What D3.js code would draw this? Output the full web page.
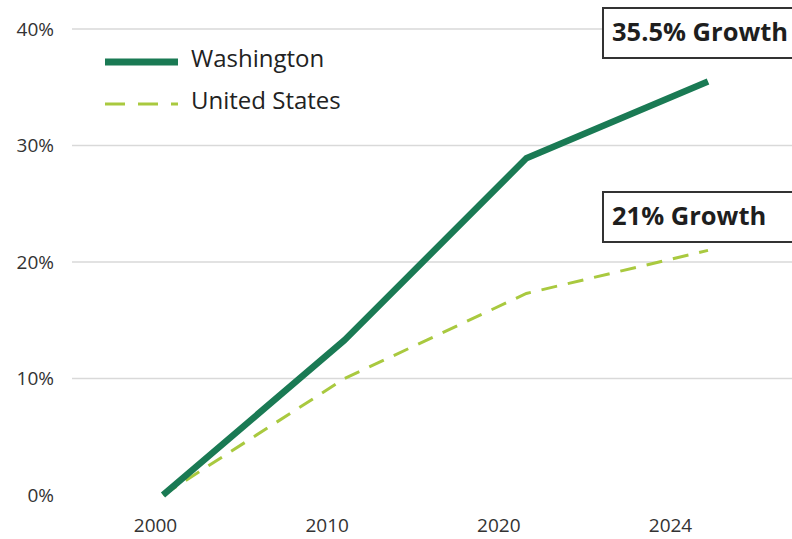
<!DOCTYPE html>
<html>
<head>
<meta charset="utf-8">
<script src="https://cdn.jsdelivr.net/npm/d3@7"></script>
<style>
  body { margin: 0; background: #fff; }
  svg { display: block; font-family: "Open Sans", Lato, sans-serif; }
</style>
</head>
<body>
<svg id="chart" width="792" height="539"></svg>
<script>
// chart data
const years = ['2000', '2010', '2020', '2024'];
const washington = [0, 13.3, 28.9, 35.5];
const unitedStates = [0, 10.0, 17.3, 21.0];
const yTicks = [0, 10, 20, 30, 40];
const callouts = ['35.5% Growth', '21% Growth'];

const width = 792,
  height = 539,
  green = '#1a7a54',
  lime = '#a9c93f';

const svg = d3.select('#chart');

const y = d3.scaleLinear().domain([0, 40]).range([495, 29]);
// data points sit a little right of the category labels in the original
const xData = d3.scalePoint().domain(years).range([163, 708]);
const xLabel = d3.scalePoint().domain(years).range([155, 670]);

// gridlines
svg.append('g')
  .selectAll('line')
  .data(yTicks.filter((d) => d > 0))
  .enter()
  .append('line')
  .attr('x1', 72)
  .attr('x2', width)
  .attr('y1', (d) => y(d))
  .attr('y2', (d) => y(d))
  .attr('stroke', '#d9d9d9')
  .attr('stroke-width', 1.5);

// y axis labels
const yAxis = svg.append('g')
  .attr('transform', 'translate(54,0)')
  .call(d3.axisLeft(y).tickValues(yTicks).tickFormat((d) => d + '%').tickSize(0).tickPadding(0));
yAxis.select('.domain').remove();
yAxis.selectAll('text')
  .attr('font-family', '"Open Sans", sans-serif')
  .attr('font-size', 19)
  .attr('fill', '#333');

// x axis labels
const xAxis = svg.append('g')
  .attr('transform', 'translate(0,518)')
  .call(d3.axisBottom(xLabel).tickSize(0).tickPadding(0));
xAxis.select('.domain').remove();
xAxis.selectAll('text')
  .attr('font-family', '"Open Sans", sans-serif')
  .attr('font-size', 19)
  .attr('fill', '#333');

const line = d3.line()
  .x((d, i) => xData(years[i]))
  .y((d) => y(d));

svg.append('path')
  .datum(unitedStates)
  .attr('d', line)
  .attr('fill', 'none')
  .attr('stroke', lime)
  .attr('stroke-width', 3)
  .attr('stroke-dasharray', '16,11');

svg.append('path')
  .datum(washington)
  .attr('d', line)
  .attr('fill', 'none')
  .attr('stroke', green)
  .attr('stroke-width', 6.5)
  .attr('stroke-linejoin', 'round');

// legend
const legend = svg.append('g');
const legendItems = [
  { name: 'Washington', color: green, w: 7, dash: null, y: 62 },
  { name: 'United States', color: lime, w: 3, dash: '20,13', y: 104 }
];
legend.selectAll('line')
  .data(legendItems)
  .enter()
  .append('line')
  .attr('x1', 105)
  .attr('x2', 178)
  .attr('y1', (d) => d.y)
  .attr('y2', (d) => d.y)
  .attr('stroke', (d) => d.color)
  .attr('stroke-width', (d) => d.w)
  .attr('stroke-dasharray', (d) => d.dash);
legend.selectAll('text')
  .data(legendItems)
  .enter()
  .append('text')
  .attr('x', 191)
  .attr('y', (d) => d.y - 3)
  .attr('dy', '0.35em')
  .attr('font-size', 24)
  .attr('fill', '#222')
  .text((d) => d.name);

// growth callouts
const boxes = [
  { text: callouts[0], v: washington[3], top: 8 },
  { text: callouts[1], v: unitedStates[3], top: 192 }
];
const box = svg.append('g')
  .selectAll('g')
  .data(boxes)
  .enter()
  .append('g')
  .attr('transform', (d) => `translate(603,${d.top})`);
box.append('rect')
  .attr('width', 200)
  .attr('height', 50)
  .attr('fill', '#fff')
  .attr('stroke', '#333')
  .attr('stroke-width', 2);
box.append('text')
  .attr('x', 9)
  .attr('y', 24)
  .attr('dy', '0.35em')
  .attr('font-size', 25.5)
  .attr('font-weight', 'bold')
  .attr('fill', '#1e1e1e')
  .text((d) => d.text);
</script>
</body>
</html>
